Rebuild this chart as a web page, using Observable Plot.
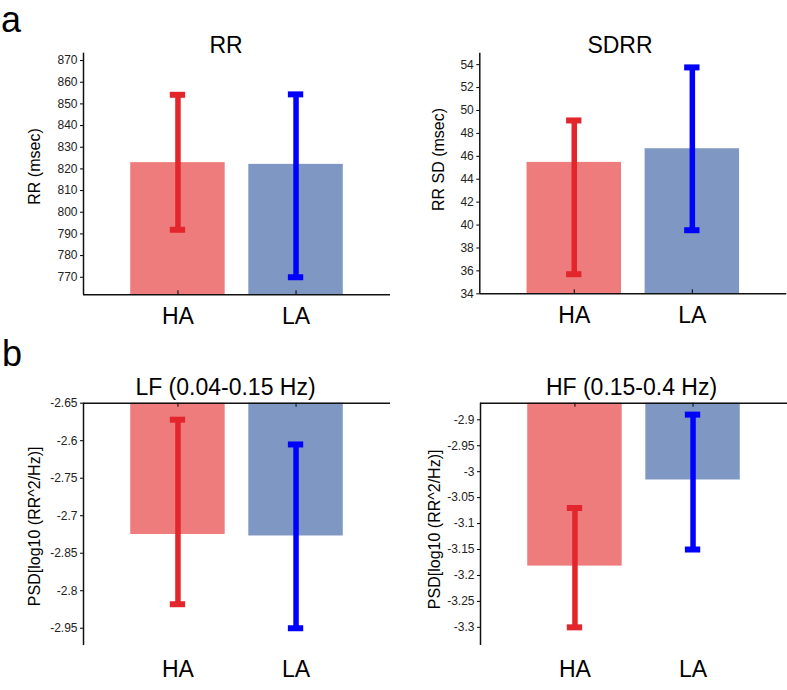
<!DOCTYPE html>
<html><head><meta charset="utf-8">
<script src="https://cdn.jsdelivr.net/npm/d3@7"></script>
<script src="https://cdn.jsdelivr.net/npm/@observablehq/plot@0.6"></script>
<style>
body{margin:0;background:#fff;}
#fig{position:relative;width:787px;height:690px;font-family:"Liberation Sans",Arial,sans-serif;overflow:hidden;background:#fff;}
.panel{position:absolute;}
.letter{position:absolute;font-size:36px;line-height:1;color:#000;}
</style></head><body>
<div id="fig">
  <div class="letter" style="left:1px;top:1.5px">a</div>
  <div class="letter" style="left:2px;top:336px">b</div>
</div>
<script>
// ---------- data ----------
const categories = ["HA", "LA"];

const rrMean = [822.9, 822.1];
const rrLow  = [791.9, 770.0];
const rrHigh = [854.2, 854.4];
const rrTicks = [770, 780, 790, 800, 810, 820, 830, 840, 850, 860, 870];

const sdrrMean = [45.47, 46.66];
const sdrrLow  = [35.71, 39.55];
const sdrrHigh = [49.13, 53.76];
const sdrrTicks = [34, 36, 38, 40, 42, 44, 46, 48, 50, 52, 54];

const lfMean = [-2.825, -2.827];
const lfLow  = [-2.918, -2.950];
const lfHigh = [-2.672, -2.705];
const lfTickValues = [-2.65, -2.70, -2.75, -2.80, -2.85, -2.90, -2.95];
const lfTickLabels = ["-2.65", "-2.6", "-2.75", "-2.7", "-2.85", "-2.8", "-2.95"];

const hfMean = [-3.182, -3.016];
const hfLow  = [-3.300, -3.150];
const hfHigh = [-3.070, -2.890];
const hfTicks = [-2.9, -2.95, -3, -3.05, -3.1, -3.15, -3.2, -3.25, -3.3];

// ---------- styles ----------
const barFill = {HA: "#ee7c7c", LA: "#7f97c3"};
const errStroke = {HA: "#e3262c", LA: "#0000ff"};
const FONT = "Liberation Sans, Arial, Helvetica, sans-serif";

function panel(o) {
  const rows = categories.map((c, i) => ({cat: c, pos: i + 1, mean: o.means[i], lo: o.lows[i], hi: o.highs[i]}));
  const base = o.hanging ? o.yDomain[1] : o.yDomain[0];
  const xDomain = [0.2, 2.8];
  const frameH = o.height - o.marginTop - o.marginBottom;
  const fmt = o.tickLabels
    ? d => o.tickLabels[o.ticks.findIndex(v => Math.abs(v - d) < 1e-9)]
    : d => String(d);
  const chart = Plot.plot({
    width: o.width, height: o.height,
    marginLeft: o.marginLeft, marginRight: o.marginRight,
    marginTop: o.marginTop, marginBottom: o.marginBottom,
    style: {fontFamily: FONT, background: "transparent", color: "#000", overflow: "visible"},
    x: {type: "linear", domain: xDomain},
    y: {type: "linear", domain: o.yDomain},
    marks: [
      Plot.rect(rows, {x1: d => d.pos - 0.4, x2: d => d.pos + 0.4, y1: d => base, y2: "mean",
        fill: d => barFill[d.cat]}),
      Plot.ruleX([1, 2], o.hanging
        ? {stroke: "#000", strokeWidth: 1, insetBottom: frameH - 4}
        : {stroke: "#000", strokeWidth: 1, insetTop: frameH - 4}),
      Plot.ruleX(rows, {x: "pos", y1: "lo", y2: "hi", stroke: d => errStroke[d.cat], strokeWidth: 5.5}),
      Plot.ruleY(rows, {y: "lo", x1: d => d.pos - 0.065, x2: d => d.pos + 0.065, stroke: d => errStroke[d.cat], strokeWidth: 6}),
      Plot.ruleY(rows, {y: "hi", x1: d => d.pos - 0.065, x2: d => d.pos + 0.065, stroke: d => errStroke[d.cat], strokeWidth: 6}),
      Plot.ruleY([base], {stroke: "#111", strokeWidth: 1.5}),
      Plot.ruleX([xDomain[0]], {stroke: "#111", strokeWidth: 1.5}),
      Plot.axisY({ticks: o.ticks, tickFormat: fmt, tickSize: 3, tickPadding: 3, fontSize: 12, fill: "#222", label: null}),
      Plot.axisX({ticks: [1, 2], tickFormat: i => categories[i - 1], tickSize: 0, tickPadding: o.xPad, fontSize: 23, fill: "#000", label: null}),
      Plot.text([o.ylabel], {frameAnchor: "left", textAnchor: "middle", rotate: -90, lineAnchor: "top", dx: o.ylDx, dy: o.ylDy, fontSize: 16, fill: "#000"}),
      Plot.text([o.title], {frameAnchor: "top", textAnchor: "middle", lineAnchor: "bottom", dx: o.tDx, dy: o.tDy, fontSize: 23, fill: "#000"})
    ]
  });
  chart.classList.add("panel");
  chart.style.left = o.left + "px";
  chart.style.top = o.top + "px";
  document.getElementById("fig").appendChild(chart);
}

panel({left: 0, top: 0, width: 393, height: 345, marginLeft: 83, marginRight: 3, marginTop: 52.7, marginBottom: 50.7,
  yDomain: [761.9, 873.4], hanging: false, means: rrMean, lows: rrLow, highs: rrHigh, ticks: rrTicks,
  ylabel: "RR (msec)", ylDx: -54.5, ylDy: -7.5, title: "RR", tDx: -11, tDy: -0.7, xPad: 12.4});

panel({left: 396, top: 0, width: 391, height: 345, marginLeft: 83.3, marginRight: 0.7, marginTop: 52.7, marginBottom: 51.7,
  yDomain: [34, 55], hanging: false, means: sdrrMean, lows: sdrrLow, highs: sdrrHigh, ticks: sdrrTicks,
  ylabel: "RR SD (msec)", ylDx: -47.3, ylDy: -14, title: "SDRR", tDx: -13.3, tDy: 0, xPad: 12.4});

panel({left: 0, top: 350, width: 393, height: 340, marginLeft: 83, marginRight: 3, marginTop: 52.7, marginBottom: 45,
  yDomain: [-2.973, -2.65], hanging: true, means: lfMean, lows: lfLow, highs: lfHigh, ticks: lfTickValues, tickLabels: lfTickLabels,
  ylabel: "PSD[log10 (RR^2/Hz)]", ylDx: -54.5, ylDy: 2, title: "LF (0.04-0.15 Hz)", tDx: -11.5, tDy: -8.7, xPad: 15.2});

panel({left: 396, top: 350, width: 391, height: 340, marginLeft: 84, marginRight: 0, marginTop: 52.7, marginBottom: 45,
  yDomain: [-3.335, -2.868], hanging: true, means: hfMean, lows: hfLow, highs: hfHigh, ticks: hfTicks,
  ylabel: "PSD[log10 (RR^2/Hz)]", ylDx: -51.5, ylDy: 5, title: "HF (0.15-0.4 Hz)", tDx: -2.5, tDy: -8.7, xPad: 15.2});
</script>
</body></html>
